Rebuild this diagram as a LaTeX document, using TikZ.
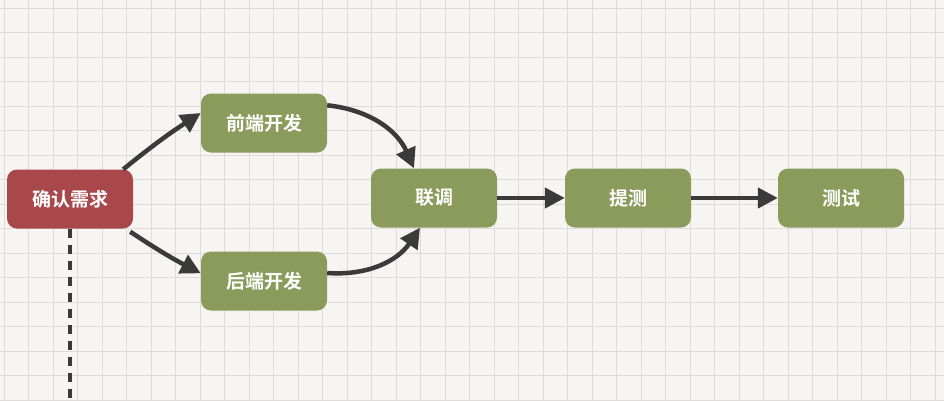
\documentclass[tikz,border=0pt]{standalone}
\usepackage{fontspec}
\newfontfamily\cjk{Noto Sans CJK SC Bold}
\usetikzlibrary{arrows.meta}
\definecolor{bg}{HTML}{F7F5F2}
\definecolor{gridc}{HTML}{DEDCD9}
\definecolor{redb}{HTML}{A8484A}
\definecolor{greenb}{HTML}{8B9B5C}
\definecolor{arr}{HTML}{3A3A3A}
\tikzset{
 box/.style={rounded corners=10pt, minimum width=126pt, minimum height=59pt, text=white, font=\cjk\fontsize{19}{22}\selectfont, inner sep=0pt},
 gbox/.style={box, fill=greenb},
 rbox/.style={box, fill=redb},
 link/.style={draw=arr, line width=4.5pt, -{Triangle[length=20pt,width=20pt]}},
}
\begin{document}
\begin{tikzpicture}[x=1pt,y=-1pt]
\fill[bg] (0,0) rectangle (944,400);
\useasboundingbox (0,0) rectangle (944,400);
\foreach \i in {0,...,39} \draw[gridc, line width=0.8pt] (\i*24.5+4,0) -- (\i*24.5+4,400);
\foreach \j in {0,...,16} \draw[gridc, line width=0.8pt] (0,\j*24.5+8) -- (944,\j*24.5+8);
\node[rbox] (a) at (70,199) {确认需求};
\node[gbox] (b) at (264,123) {前端开发};
\node[gbox] (c) at (264,281) {后端开发};
\node[gbox] (d) at (434,198) {联调};
\node[gbox] (e) at (628,198) {提测};
\node[gbox] (f) at (841,198) {测试};
\coordinate (z) at (70,400);
\draw[arr, line width=4.5pt, dash pattern=on 9pt off 7pt] (a.south) -- (z);
\draw[link] ([xshift=-10pt]a.north east) to[bend left=3] ([yshift=10pt]b.west);
\draw[link] ([xshift=-3pt,yshift=-3pt]a.south east) to[bend right=3] ([yshift=-22pt]c.north west);
\draw[link] ([yshift=-12pt]b.north east) to[bend left=30] ([xshift=-20pt]d.north);
\draw[link] ([yshift=8pt]c.east) to[bend right=30] ([xshift=-14pt]d.south);
\draw[link] (d) -- (e);
\draw[link] (e) -- (f);
\end{tikzpicture}
\end{document}
